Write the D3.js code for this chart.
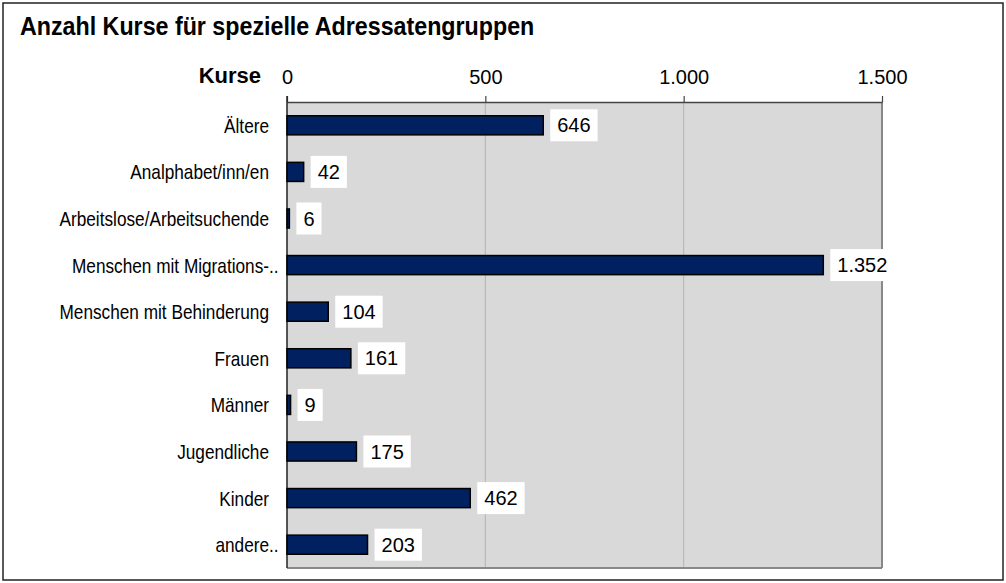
<!DOCTYPE html>
<html lang="de">
<head>
<meta charset="UTF-8">
<title>Anzahl Kurse für spezielle Adressatengruppen</title>
<script src="https://cdnjs.cloudflare.com/ajax/libs/d3/7.8.5/d3.min.js"></script>
<style>
  body { margin: 0; background: #fff; }
  svg text { font-family: "Liberation Sans", Arial, sans-serif; fill: #000; }
</style>
</head>
<body>
<svg id="chart" width="1006" height="583"></svg>
<script>
// data
const categories = ["Ältere", "Analphabet/inn/en", "Arbeitslose/Arbeitsuchende", "Menschen mit Migrations-..",
  "Menschen mit Behinderung", "Frauen", "Männer", "Jugendliche", "Kinder", "andere.."];
const kurse = [646, 42, 6, 1352, 104, 161, 9, 175, 462, 203];
const tickValues = [0, 500, 1000, 1500];
const tickLabels = ["0", "500", "1.000", "1.500"];

const svg = d3.select("#chart");
const plotLeft = 287, plotRight = 882, plotTop = 102, plotBottom = 568;

// outer frame
svg.append("rect")
  .attr("x", 3).attr("y", 3).attr("width", 1000).attr("height", 577)
  .attr("fill", "#fff").attr("stroke", "#222").attr("stroke-width", 1.5);

svg.append("text")
  .attr("transform", "translate(20,35) scale(0.93,1)")
  .attr("font-size", 25).attr("font-weight", "bold")
  .text("Anzahl Kurse für spezielle Adressatengruppen");

const x = d3.scaleLinear().domain([0, 1500]).range([plotLeft, plotRight]);
const y = d3.scaleBand().domain(categories).range([plotTop, plotBottom])
  .paddingInner(0.59).paddingOuter(0.295);

// plot background
svg.append("rect")
  .attr("x", plotLeft).attr("y", plotTop).attr("width", plotRight - plotLeft).attr("height", plotBottom - plotTop)
  .attr("fill", "#d9d9d9");

// grid lines
svg.append("g").selectAll("line")
  .data(tickValues.slice(1, -1))
  .join("line")
  .attr("x1", d => x(d)).attr("x2", d => x(d))
  .attr("y1", plotTop).attr("y2", plotBottom)
  .attr("stroke", "#b3b3b3").attr("stroke-width", 1);

// right and bottom border of plot
svg.append("line").attr("x1", plotRight).attr("x2", plotRight).attr("y1", plotTop).attr("y2", plotBottom)
  .attr("stroke", "#888").attr("stroke-width", 2);
svg.append("line").attr("x1", plotLeft).attr("x2", plotRight).attr("y1", plotBottom).attr("y2", plotBottom)
  .attr("stroke", "#888").attr("stroke-width", 2);

// top axis
const xAxis = d3.axisTop(x).tickValues(tickValues)
  .tickFormat((d, i) => tickLabels[i]).tickSize(6).tickSizeOuter(0);
const ax = svg.append("g").attr("transform", `translate(0,${plotTop})`).call(xAxis);
ax.select(".domain").attr("stroke", "#444").attr("stroke-width", 1.5);
ax.selectAll(".tick line").attr("stroke", "#444").attr("stroke-width", 1.2);
ax.selectAll(".tick text")
  .attr("font-size", 20).attr("font-family", "'Liberation Sans', Arial, sans-serif")
  .attr("fill", "#000").attr("y", -18).attr("dy", 0);

svg.append("text")
  .attr("x", 261).attr("y", 83)
  .attr("text-anchor", "end").attr("font-size", 22).attr("font-weight", "bold")
  .text("Kurse");

// left axis line
svg.append("line").attr("x1", plotLeft).attr("x2", plotLeft).attr("y1", plotTop - 6).attr("y2", plotBottom)
  .attr("stroke", "#222").attr("stroke-width", 1.5);

// category labels (condensed look)
const labels = svg.append("g");
categories.forEach(c => {
  const cy = y(c) + y.bandwidth() / 2 + 7.5;
  const trunc = c.endsWith("..");
  const base = trunc ? c.slice(0, -2) : c;
  labels.append("text")
    .attr("transform", `translate(269,${cy}) scale(0.82,1)`)
    .attr("text-anchor", "end").attr("font-size", 21)
    .text(base);
  if (trunc) {
    labels.append("text")
      .attr("transform", `translate(269,${cy}) scale(0.82,1)`)
      .attr("font-size", 21)
      .text("..");
  }
});

// bars
svg.append("g").selectAll("rect")
  .data(kurse)
  .join("rect")
  .attr("x", x(0))
  .attr("y", (d, i) => y(categories[i]))
  .attr("width", d => x(d) - x(0))
  .attr("height", y.bandwidth())
  .attr("fill", "#00205f")
  .attr("stroke", "#000").attr("stroke-width", 1.5);

// value labels
const fmt = d3.formatLocale({ decimal: ",", thousands: ".", grouping: [3], currency: ["", "€"] }).format(",d");
const vl = svg.append("g").selectAll("g")
  .data(kurse)
  .join("g")
  .attr("transform", (d, i) => `translate(${x(d) + 7},${y(categories[i]) + y.bandwidth() / 2})`);
vl.append("text")
  .attr("x", 7).attr("y", 7)
  .attr("font-size", 20)
  .text(d => fmt(d));
vl.each(function () {
  const g = d3.select(this);
  const w = g.select("text").node().getComputedTextLength();
  g.insert("rect", "text")
    .attr("x", 0).attr("y", -16).attr("width", w + 14).attr("height", 32)
    .attr("fill", "#fff");
});
</script>
</body>
</html>
